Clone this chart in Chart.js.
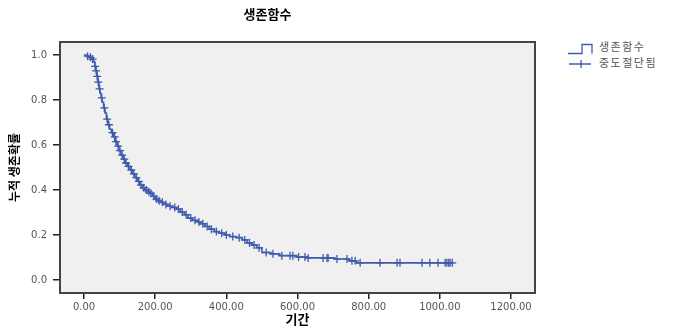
<!DOCTYPE html>
<html>
<head>
<meta charset="utf-8">
<script src="https://cdn.jsdelivr.net/npm/chart.js@4.4.0/dist/chart.umd.min.js"></script>
<style>
  body { margin: 0; background: #fff; }
  #wrap { position: relative; width: 675px; height: 329px; }
  #chart { position: absolute; left: 0; top: 0; }
  #legend { position: absolute; left: 568px; top: 38px; font-family: "Noto Sans CJK KR", sans-serif; font-size: 11px; color: #555; letter-spacing: 1.5px; }
  #legend div { height: 16px; line-height: 16px; white-space: nowrap; }
  #legend svg { vertical-align: middle; margin-right: 5px; }
</style>
</head>
<body>
<div id="wrap">
  <canvas id="chart" width="545" height="329"></canvas>
  <div id="legend">
    <div><svg width="26" height="14"><path d="M0 12.5 H14 V3.5 H24 V12.5" fill="none" stroke="#3f5bab" stroke-width="1.3"/></svg>생존함수</div>
    <div><svg width="26" height="14"><path d="M1 7 H23 M13 3 V11" fill="none" stroke="#3f5bab" stroke-width="1.3"/></svg>중도절단됨</div>
  </div>
</div>
<script>
// survival function (Kaplan-Meier steps)
var survTimes = [0, 8, 15, 22, 27, 30, 33, 36, 39, 42, 45, 48, 51, 55, 59, 63, 67, 72, 77, 82,
  88, 93, 98, 104, 110, 116, 122, 129, 136, 143, 150, 157, 164, 171, 178, 185, 192, 200, 207, 214,
  224, 235, 248, 260, 270, 282, 292, 305, 318, 328, 340, 352, 366, 380, 395, 410, 428, 445, 458, 472,
  486, 500, 525, 550, 598, 625, 705, 745, 765, 1035];
var survValues = [1.0, 0.995, 0.99, 0.982, 0.97, 0.95, 0.93, 0.905, 0.88, 0.85, 0.83, 0.81, 0.79, 0.765, 0.742, 0.715, 0.69, 0.67, 0.655, 0.636,
  0.615, 0.595, 0.575, 0.555, 0.537, 0.52, 0.505, 0.489, 0.472, 0.455, 0.438, 0.422, 0.41, 0.4, 0.392, 0.385, 0.372, 0.36, 0.352, 0.345,
  0.336, 0.328, 0.322, 0.315, 0.302, 0.29, 0.275, 0.265, 0.258, 0.25, 0.238, 0.226, 0.215, 0.208, 0.2, 0.193, 0.188, 0.178, 0.165, 0.155,
  0.143, 0.122, 0.116, 0.108, 0.102, 0.098, 0.093, 0.085, 0.076, 0.076];

// censored cases
var censorTimes = [10, 18, 24, 31, 34, 37, 40, 44, 50, 57, 65, 70, 80, 86, 90, 96, 101, 107, 113, 118,
  125, 133, 140, 147, 154, 160, 168, 175, 182, 188, 196, 204, 211, 220, 230, 242, 255, 265, 276, 287,
  300, 312, 323, 334, 346, 358, 372, 387, 400, 418, 436, 452, 465, 478, 492, 512, 531, 556, 579, 587,
  603, 621, 630, 672, 683, 686, 711, 739, 753, 762, 776, 832, 880, 888, 950, 972, 995, 1015, 1020, 1025,
  1029, 1035];
var censorValues = [0.995, 0.99, 0.982, 0.95, 0.93, 0.905, 0.88, 0.85, 0.81, 0.765, 0.715, 0.69, 0.655, 0.636, 0.615, 0.595, 0.575, 0.555, 0.537, 0.52,
  0.505, 0.489, 0.472, 0.455, 0.438, 0.422, 0.41, 0.4, 0.392, 0.385, 0.372, 0.36, 0.352, 0.345, 0.336, 0.328, 0.322, 0.315, 0.302, 0.29,
  0.275, 0.265, 0.258, 0.25, 0.238, 0.226, 0.215, 0.208, 0.2, 0.193, 0.188, 0.178, 0.165, 0.155, 0.143, 0.122, 0.116, 0.108, 0.108, 0.108,
  0.102, 0.102, 0.098, 0.098, 0.098, 0.098, 0.093, 0.093, 0.085, 0.085, 0.076, 0.076, 0.076, 0.076, 0.076, 0.076, 0.076, 0.076, 0.076, 0.076,
  0.076, 0.076];

var xTicks = [0, 200, 400, 600, 800, 1000, 1200];
var yTicks = [0, 0.2, 0.4, 0.6, 0.8, 1.0];

var lineColor = '#3f5bab';

function pairs(xs, ys){
	var out = [];
	for(var i = 0; i < xs.length; i++){
		out.push({x: xs[i], y: ys[i]});
	}
	return out;
}

var plotBox = {
	id: 'plotBox',
	beforeDatasetsDraw: function(chart){
		var a = chart.chartArea, ctx = chart.ctx;
		ctx.save();
		ctx.fillStyle = '#f0f0f0';
		ctx.fillRect(a.left, a.top, a.right - a.left, a.bottom - a.top);
		ctx.restore();
	},
	afterDatasetsDraw: function(chart){
		var a = chart.chartArea, ctx = chart.ctx;
		ctx.save();
		ctx.strokeStyle = '#444';
		ctx.lineWidth = 2;
		ctx.strokeRect(a.left, a.top, a.right - a.left, a.bottom - a.top);
		ctx.restore();
	}
};

var tickFont = {family: 'DejaVu Sans', size: 10};

new Chart(document.getElementById('chart').getContext('2d'), {
	type: 'scatter',
	data: {
		datasets: [{
			label: '생존함수',
			type: 'line',
			data: pairs(survTimes, survValues),
			stepped: true,
			borderColor: lineColor,
			borderWidth: 1.6,
			pointRadius: 0,
			fill: false
		}, {
			label: '중도절단됨',
			data: pairs(censorTimes, censorValues),
			pointStyle: 'cross',
			pointRadius: 4,
			borderColor: lineColor,
			backgroundColor: lineColor,
			borderWidth: 1.3
		}]
	},
	options: {
		responsive: false,
		animation: false,
		devicePixelRatio: 1,
		layout: {padding: {left: 0, right: 10, top: 0, bottom: 0}},
		plugins: {
			legend: {display: false},
			tooltip: {enabled: false},
			title: {
				display: true,
				text: '생존함수',
				color: '#000',
				font: {family: 'Noto Sans CJK KR', size: 13, weight: 'bold'},
				padding: {top: 6, bottom: 20.4}
			}
		},
		scales: {
			x: {
				type: 'linear',
				min: -67.5,
				max: 1267.5,
				afterFit: function(s){ s.height = 36; },
				afterBuildTicks: function(s){ s.ticks = xTicks.map(function(v){ return {value: v}; }); },
				ticks: {
					color: '#555',
					font: tickFont,
					padding: 2,
					maxRotation: 0,
					callback: function(v){ return Number(v).toFixed(2); }
				},
				grid: {drawOnChartArea: false, drawTicks: true, tickLength: 6, color: '#222', lineWidth: 1.5},
				border: {display: false},
				title: {
					display: true,
					text: '기간',
					color: '#000',
					font: {family: 'Noto Sans CJK KR', size: 13, weight: 'bold'},
					padding: {top: 0, bottom: 2}
				}
			},
			y: {
				min: -0.058,
				max: 1.058,
				afterFit: function(s){ s.width = 60; },
				afterBuildTicks: function(s){ s.ticks = yTicks.map(function(v){ return {value: v}; }); },
				ticks: {
					color: '#555',
					font: tickFont,
					padding: 6,
					callback: function(v){ return Number(v).toFixed(1); }
				},
				grid: {drawOnChartArea: false, drawTicks: true, tickLength: 7, color: '#222', lineWidth: 1.5},
				border: {display: false},
				title: {
					display: true,
					text: '누적 생존확률',
					color: '#000',
					font: {family: 'Noto Sans CJK KR', size: 12, weight: 'bold'},
					padding: {top: 7, bottom: 0}
				}
			}
		}
	},
	plugins: [plotBox]
});
</script>
</body>
</html>
